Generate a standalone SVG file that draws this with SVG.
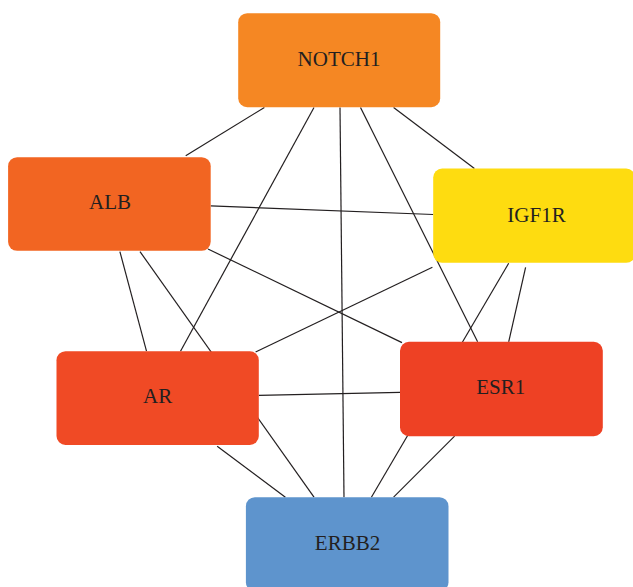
<svg xmlns="http://www.w3.org/2000/svg" width="633" height="587" viewBox="0 0 633 587">
<style>
.node rect{rx:9px;ry:9px}
.node text{font-family:"Liberation Serif","Times New Roman",serif;font-size:21px;fill:#231F20;text-anchor:middle}
#connectors line{stroke:#231F20;stroke-width:1.2;fill:none}
</style>
<rect width="633" height="587" fill="#ffffff"/>
<g id="connectors">
<line x1="264.4" y1="107.5" x2="185.7" y2="155.7"/>
<line x1="314" y1="107.5" x2="180.5" y2="351.2"/>
<line x1="340" y1="107.5" x2="344" y2="497.2"/>
<line x1="360.5" y1="107.5" x2="477.6" y2="341.8"/>
<line x1="393.6" y1="107.5" x2="474.4" y2="168.5"/>
<line x1="210.7" y1="205.9" x2="433.2" y2="214.5"/>
<line x1="208" y1="249" x2="402" y2="342.6"/>
<line x1="119.9" y1="251.6" x2="146.5" y2="351.2"/>
<line x1="140" y1="251.6" x2="314" y2="497.2"/>
<line x1="432.4" y1="267.3" x2="255.6" y2="352"/>
<line x1="508.7" y1="263.2" x2="371.4" y2="497.2"/>
<line x1="525.6" y1="267.3" x2="508.7" y2="341.8"/>
<line x1="258.8" y1="395.4" x2="400" y2="392.4"/>
<line x1="217.2" y1="446.3" x2="285.4" y2="497.2"/>
<line x1="454.6" y1="436.2" x2="393.6" y2="497.2"/>
</g>
<g id="NOTCH1" class="node"><rect x="238.2" y="13.2" width="202" height="94" fill="#F58723"/><text x="339" y="66">NOTCH1</text></g>
<g id="ALB" class="node"><rect x="8.1" y="157.2" width="202.6" height="93.6" fill="#F26522"/><text x="110" y="208.5">ALB</text></g>
<g id="IGF1R" class="node"><rect x="433.2" y="168.6" width="202" height="94.2" fill="#FEDC10"/><text x="536.5" y="221.8">IGF1R</text></g>
<g id="AR" class="node"><rect x="56.5" y="351.2" width="202.3" height="93.8" fill="#F04A25"/><text x="157.7" y="402.8">AR</text></g>
<g id="ESR1" class="node"><rect x="400" y="341.8" width="202.8" height="94.4" fill="#EE4124"/><text x="500.8" y="394.4">ESR1</text></g>
<g id="ERBB2" class="node"><rect x="245.9" y="497.2" width="202.6" height="94" fill="#5E94CD"/><text x="347.5" y="549.8">ERBB2</text></g>
</svg>
